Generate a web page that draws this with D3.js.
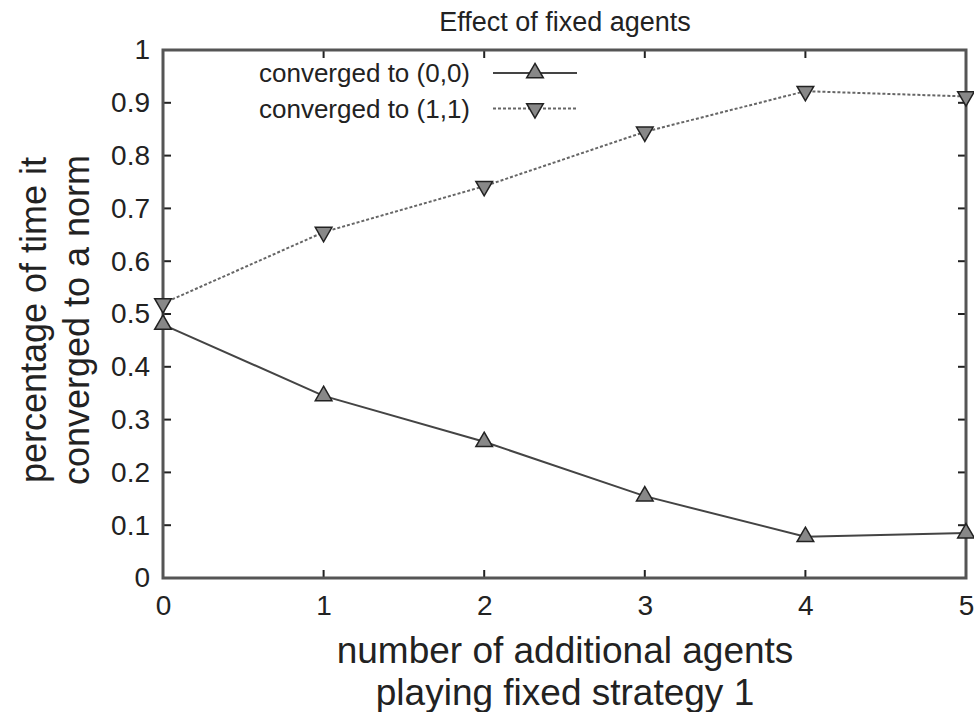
<!DOCTYPE html>
<html>
<head>
<meta charset="utf-8">
<script src="https://cdn.jsdelivr.net/npm/d3@7"></script>
<style>
  body { margin: 0; background: #fff; }
  text { font-family: "Liberation Sans", Arial, sans-serif; fill: #222; }
</style>
</head>
<body>
<svg id="chart"></svg>
<script>
const svgWidth = 974;
const svgHeight = 712;

const agents = [0, 1, 2, 3, 4, 5];
const converged00 = [0.48, 0.345, 0.258, 0.155, 0.078, 0.085];
const converged11 = [0.52, 0.655, 0.742, 0.845, 0.922, 0.912];
const yTicks = [0, 0.1, 0.2, 0.3, 0.4, 0.5, 0.6, 0.7, 0.8, 0.9, 1];
const seriesNames = ['converged to (0,0)', 'converged to (1,1)'];

const plotLeft = 163, plotRight = 966, plotTop = 50, plotBottom = 578;

const svg = d3.select('#chart')
    .attr('width', svgWidth)
    .attr('height', svgHeight);

const x = d3.scaleLinear().domain([0, 5]).range([plotLeft, plotRight]);
const y = d3.scaleLinear().domain([0, 1]).range([plotBottom, plotTop]);

// title
svg.append('text')
    .text('Effect of fixed agents')
    .attr('x', 565)
    .attr('y', 31)
    .attr('text-anchor', 'middle')
    .attr('font-size', 27);

// tick labels
svg.append('g')
    .attr('transform', `translate(0,${plotBottom})`)
    .call(d3.axisBottom(x).tickValues(agents).tickFormat(d3.format('d')).tickSize(0).tickPadding(17))
    .call(g => g.select('.domain').remove())
    .selectAll('text').attr('font-size', 28).attr('fill', '#222');

svg.append('g')
    .attr('transform', `translate(${plotLeft},0)`)
    .call(d3.axisLeft(y).tickValues(yTicks).tickFormat(d => d === 0 || d === 1 ? d3.format('d')(d) : d3.format('.1f')(d)).tickSize(0).tickPadding(13))
    .call(g => g.select('.domain').remove())
    .selectAll('text').attr('font-size', 28).attr('fill', '#222');

// inward ticks, mirrored
const ticks = svg.append('g').attr('stroke', '#222').attr('stroke-width', 2);
agents.forEach(d => {
    ticks.append('line').attr('x1', x(d)).attr('x2', x(d)).attr('y1', plotBottom).attr('y2', plotBottom - 8);
    ticks.append('line').attr('x1', x(d)).attr('x2', x(d)).attr('y1', plotTop).attr('y2', plotTop + 8);
});
yTicks.forEach(d => {
    ticks.append('line').attr('x1', plotLeft).attr('x2', plotLeft + 8).attr('y1', y(d)).attr('y2', y(d));
    ticks.append('line').attr('x1', plotRight).attr('x2', plotRight - 8).attr('y1', y(d)).attr('y2', y(d));
});

// frame
svg.append('rect')
    .attr('x', plotLeft)
    .attr('y', plotTop)
    .attr('width', plotRight - plotLeft)
    .attr('height', plotBottom - plotTop)
    .attr('fill', 'none')
    .attr('stroke', '#555')
    .attr('stroke-width', 3);

// axis labels
svg.append('text')
    .attr('x', 565).attr('y', 663)
    .attr('text-anchor', 'middle').attr('font-size', 37)
    .text('number of additional agents');
svg.append('text')
    .attr('x', 565).attr('y', 705)
    .attr('text-anchor', 'middle').attr('font-size', 37)
    .text('playing fixed strategy 1');

svg.append('text')
    .attr('transform', 'translate(46,320) rotate(-90)')
    .attr('text-anchor', 'middle').attr('font-size', 36)
    .text('percentage of time it');
svg.append('text')
    .attr('transform', 'translate(89,320) rotate(-90)')
    .attr('text-anchor', 'middle').attr('font-size', 36)
    .text('converged to a norm');

// series
const line = d3.line().x((d, i) => x(agents[i])).y(d => y(d));
const upTri = d3.symbol().type(d3.symbolTriangle).size(120);

svg.append('path')
    .datum(converged00)
    .attr('d', line)
    .attr('fill', 'none')
    .attr('stroke', '#444')
    .attr('stroke-width', 2);

svg.append('path')
    .datum(converged11)
    .attr('d', line)
    .attr('fill', 'none')
    .attr('stroke', '#666')
    .attr('stroke-width', 2)
    .attr('stroke-dasharray', '3,2');

svg.selectAll('.m00')
    .data(converged00)
    .enter()
    .append('path')
    .attr('class', 'm00')
    .attr('d', upTri)
    .attr('transform', (d, i) => `translate(${x(agents[i])},${y(d)})`)
    .attr('fill', '#888')
    .attr('stroke', '#222')
    .attr('stroke-width', 1.5);

svg.selectAll('.m11')
    .data(converged11)
    .enter()
    .append('path')
    .attr('class', 'm11')
    .attr('d', upTri)
    .attr('transform', (d, i) => `translate(${x(agents[i])},${y(d)}) rotate(180)`)
    .attr('fill', '#888')
    .attr('stroke', '#222')
    .attr('stroke-width', 1.5);

// legend
const legend = svg.append('g');
seriesNames.forEach((name, i) => {
    const ly = 73 + i * 35.5;
    legend.append('text')
        .attr('x', 470).attr('y', ly + 9)
        .attr('text-anchor', 'end').attr('font-size', 26)
        .text(name);
    legend.append('line')
        .attr('x1', 493).attr('x2', 577).attr('y1', ly).attr('y2', ly)
        .attr('stroke', i === 0 ? '#444' : '#666')
        .attr('stroke-width', 2)
        .attr('stroke-dasharray', i === 0 ? null : '3,2');
    legend.append('path')
        .attr('d', upTri)
        .attr('transform', `translate(535,${ly}) rotate(${i === 0 ? 0 : 180})`)
        .attr('fill', '#888')
        .attr('stroke', '#222')
        .attr('stroke-width', 1.5);
});
</script>
</body>
</html>
